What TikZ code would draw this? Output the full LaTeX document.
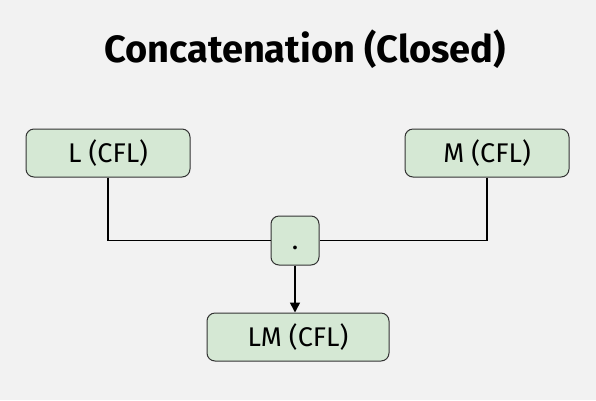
\documentclass[tikz,border=0pt]{standalone}
\usepackage{fontspec}
\setmainfont{Fira Sans}
\usetikzlibrary{arrows.meta,positioning}

\begin{document}
\begin{tikzpicture}[x=1pt,y=-1pt,>={Triangle[length=10pt,width=10pt]},
	lang node/.style={draw=black!80,fill=boxgreen,rounded corners=8pt,line width=1pt,
		minimum height=48pt,inner sep=0pt,font=\fontsize{27}{32}\selectfont},
	link/.style={line width=1.6pt,black}]
	\definecolor{boxgreen}{HTML}{D5E8D4}
	\fill[black!5] (0,0) rectangle (596,400);
	\useasboundingbox (0,0) rectangle (596,400);
	\node[font=\bfseries\fontsize{38}{44}\selectfont] (title) at (305,49) {Concatenation (Closed)};
	\node[lang node,minimum width=164pt] (L) at (108,153) {L (CFL)};
	\node[lang node,minimum width=164pt] (M) at (487,153) {M (CFL)};
	\node[lang node,minimum width=48pt,minimum height=49pt] (cat) at (295,240.5) {\vphantom{L}.};
	\node[lang node,minimum width=182pt] (LM) at (298,337) {LM (CFL)};
	
	\draw[link] (L.south) |- (cat.west);
	\draw[link] (M.south) |- (cat.east);
	\draw[link,->] (cat.south) -- (cat.south |- LM.north);
\end{tikzpicture}
\end{document}
